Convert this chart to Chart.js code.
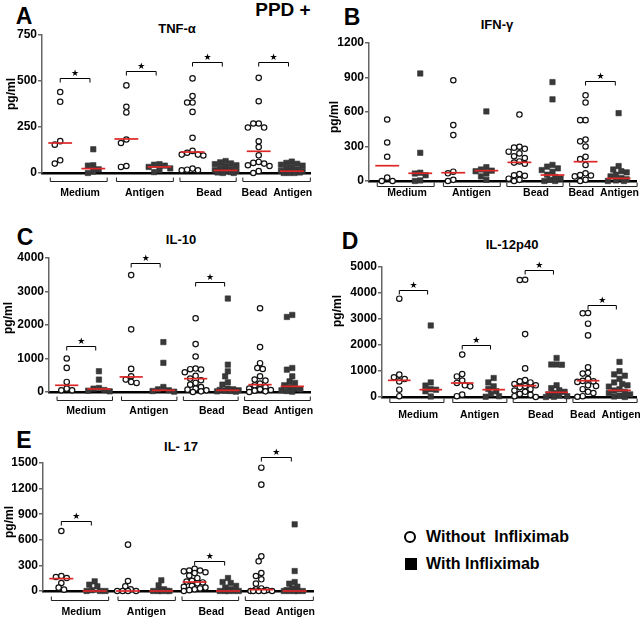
<!DOCTYPE html>
<html>
<head>
<meta charset="utf-8">
<script src="https://cdn.jsdelivr.net/npm/chart.js@4.4.1/dist/chart.umd.min.js"></script>
<style>
  body { margin: 0; background: #fff; }
  #fig { position: relative; width: 642px; height: 619px; overflow: hidden;
         font-family: "Liberation Sans", Arial, sans-serif; font-weight: bold; color: #000; }
  #fig canvas { position: absolute; }
  .t { position: absolute; transform: translate(-50%, -50%); white-space: nowrap; }
  .letter { font-size: 23px; }
  .ptitle { font-size: 13px; }
  .leg { position: absolute; font-size: 16px; transform: translateY(-50%); white-space: nowrap; }
  .circ { position: absolute; width: 8px; height: 8px; border: 2.2px solid #000; border-radius: 50%;
          transform: translate(-50%, -50%); background: #fff; }
  .sq { position: absolute; width: 12px; height: 12px; background: #000; transform: translate(-50%, -50%); }
</style>
</head>
<body>
<div id="fig">
  <div class="t letter" style="left:24px;top:16px">A</div>
  <div class="t letter" style="left:352px;top:17px">B</div>
  <div class="t letter" style="left:25px;top:237px">C</div>
  <div class="t letter" style="left:350px;top:241px">D</div>
  <div class="t letter" style="left:24px;top:440px">E</div>
  <div class="t" style="left:283px;top:10px;font-size:19px">PPD +</div>
  <div class="t ptitle" style="left:177px;top:28px">TNF-α</div>
  <div class="t ptitle" style="left:497px;top:24px">IFN-γ</div>
  <div class="t ptitle" style="left:181px;top:239px">IL-10</div>
  <div class="t ptitle" style="left:512px;top:244px">IL-12p40</div>
  <div class="t ptitle" style="left:181px;top:446px">IL- 17</div>
  <div class="circ" style="left:410px;top:537px"></div>
  <div class="leg" style="left:426px;top:537px">Without&nbsp; Infliximab</div>
  <div class="sq" style="left:411px;top:564px"></div>
  <div class="leg" style="left:426px;top:564px">With Infliximab</div>
</div>
<script>
// stimulation groups, each has an open (without) and filled (with infliximab) column
const groups = ['Medium', 'Antigen', 'Bead', 'Bead  Antigen'];
const groupLabelPos = [1.6, 3.55, 5.5, 7.55];
const groupSpans = [[0.7, 2.42], [2.7, 4.42], [4.62, 6.32], [6.52, 8.56]];

// A: TNF-alpha
const tnfOpen = [
  [440, 387, 173, 154, 69, 51],
  [476, 360, 329, 182, 163, 38, 33],
  [514, 418, 383, 383, 332, 191, 120, 110, 100, 100, 95, 24, 18, 15, 15],
  [517, 390, 269, 269, 247, 247, 172, 141, 96, 60, 55, 51, 42, 38, 10, 0]
];
const tnfFilled = [
  [129, 42, 40, 20, 8, 0],
  [48, 45, 40, 33, 25, 15, 5],
  [65, 58, 52, 48, 42, 35, 28, 22, 15, 12, 10, 8, 5, 3, 0, 0],
  [62, 55, 50, 45, 40, 32, 25, 18, 12, 10, 8, 5, 3, 0, 0, 0]
];
const tnfMedOpen = [163, 185, 114, 118];
const tnfMedFilled = [24, 33, 14, 10];
const tnfSig = [519, 556, 601, 601];

// B: IFN-gamma
const ifnOpen = [
  [535, 335, 211, 29, 0, 0],
  [876, 486, 399, 81, 67, 10, 0],
  [578, 298, 290, 280, 255, 240, 215, 200, 170, 160, 150, 60, 50, 45, 20, 10, 0],
  [745, 682, 529, 529, 360, 345, 300, 210, 190, 139, 67, 52, 48, 40, 10, 0]
];
const ifnFilled = [
  [935, 245, 72, 65, 50, 5, 0],
  [605, 120, 100, 90, 85, 65, 40, 10],
  [860, 710, 140, 125, 110, 95, 80, 55, 35, 20, 10, 0, 0],
  [590, 130, 100, 85, 75, 55, 40, 25, 15, 5, 0, 0]
];
const ifnMedOpen = [133, 72, 162, 168];
const ifnMedFilled = [67, 90, 52, 23];
const ifnSig = [null, null, null, 866];

// C: IL-10
const il10Open = [
  [1000, 720, 300, 100, 50, 50],
  [3490, 1870, 690, 470, 370, 300, 270],
  [2200, 1430, 1060, 700, 680, 670, 590, 480, 400, 350, 270, 220, 150, 100, 70, 50, 20, 0],
  [2500, 1340, 860, 716, 687, 470, 370, 340, 250, 200, 150, 100, 80, 60, 40, 20, 0]
];
const il10Filled = [
  [620, 370, 120, 100, 60, 40, 20],
  [1490, 870, 150, 80, 50, 30, 10],
  [2790, 816, 617, 468, 290, 220, 100, 80, 60, 50, 40, 30, 20, 10],
  [2300, 2240, 716, 667, 468, 318, 269, 200, 150, 100, 80, 50, 30, 10]
];
const il10MedOpen = [200, 450, 398, 219];
const il10MedFilled = [90, 50, 50, 169];
const il10Sig = [1370, 3850, 3290, null];

// D: IL-12p40
const il12Open = [
  [3780, 860, 760, 690, 600, 280, 30],
  [1630, 880, 790, 630, 540, 450, 410, 90, 30],
  [4510, 4500, 2420, 1100, 650, 600, 560, 500, 450, 420, 380, 300, 250, 200, 120, 80, 30, 0],
  [3230, 3220, 2820, 2370, 1140, 930, 900, 700, 620, 600, 580, 450, 420, 300, 200, 150, 30, 10]
];
const il12Filled = [
  [2750, 560, 440, 300, 280, 220, 20],
  [730, 560, 410, 310, 220, 120, 30, 10],
  [1500, 1250, 1250, 1240, 450, 340, 260, 200, 150, 100, 60, 30, 10, 0],
  [1350, 990, 870, 820, 700, 560, 500, 450, 400, 300, 250, 200, 150, 100, 50, 20, 0]
];
const il12MedOpen = [641, 538, 436, 628];
const il12MedFilled = [282, 282, 180, 256];
const il12Sig = [4128, 2013, 4897, 3551];

// E: IL-17
const il17Open = [
  [703, 176, 164, 152, 94, 39, 16],
  [543, 117, 55, 20, 0, 0, 0, 0],
  [260, 240, 240, 230, 220, 210, 180, 150, 120, 110, 100, 90, 60, 50, 40, 30, 20, 10, 0],
  [1445, 1246, 406, 348, 211, 176, 137, 86, 30, 20, 10, 0, 0, 0, 0, 0]
];
const il17Filled = [
  [113, 74, 55, 10, 0, 0, 0],
  [125, 66, 20, 0, 0, 0, 0, 0],
  [152, 105, 94, 60, 40, 20, 0, 0, 0, 0, 0],
  [781, 234, 105, 86, 50, 30, 10, 0, 0, 0, 0, 0]
];
const il17MedOpen = [145, 0, 105, 16];
const il17MedFilled = [0, 0, 0, 0];
const il17Sig = [820, null, 355, 1570];

const X_MIN = 0.45, X_MAX = 8.55;
const FONT = '"Liberation Sans", Arial, sans-serif';

// where each panel sits on the page (layout only)
const panels = [
  { open: tnfOpen, filled: tnfFilled, medOpen: tnfMedOpen, medFilled: tnfMedFilled, sig: tnfSig, yMax: 750, yStep: 250,
    box: { left: 0, top: 0, w: 320, h: 205 }, area: { left: 42, right: 310, top: 35, bottom: 173 },
    yTitle: [12, 94], bracketY: 181, labelY: 193 },
  { open: ifnOpen, filled: ifnFilled, medOpen: ifnMedOpen, medFilled: ifnMedFilled, sig: ifnSig, yMax: 1200, yStep: 300,
    box: { left: 322, top: 0, w: 320, h: 205 }, area: { left: 369, right: 638, top: 43, bottom: 181 },
    yTitle: [335, 117], bracketY: 186, labelY: 193 },
  { open: il10Open, filled: il10Filled, medOpen: il10MedOpen, medFilled: il10MedFilled, sig: il10Sig, yMax: 4000, yStep: 1000,
    box: { left: 0, top: 205, w: 320, h: 215 }, area: { left: 49, right: 310, top: 258, bottom: 392 },
    yTitle: [9, 318], bracketY: 400, labelY: 411 },
  { open: il12Open, filled: il12Filled, medOpen: il12MedOpen, medFilled: il12MedFilled, sig: il12Sig, yMax: 5000, yStep: 1000,
    box: { left: 322, top: 205, w: 320, h: 215 }, area: { left: 382, right: 640, top: 267, bottom: 397 },
    yTitle: [338, 311], bracketY: 402, labelY: 415 },
  { open: il17Open, filled: il17Filled, medOpen: il17MedOpen, medFilled: il17MedFilled, sig: il17Sig, yMax: 1500, yStep: 300,
    box: { left: 0, top: 420, w: 320, h: 199 }, area: { left: 43, right: 313, top: 463, bottom: 591 },
    yTitle: [10, 522], bracketY: 600, labelY: 612 }
];

// spread the dots of one column sideways so they don't sit on top of each other (like Prism does)
// dense rows are allowed to overlap a bit instead of getting wider
function swarm(values, center, pxX, pxY) {
  const placed = [];
  const pts = [];
  const minD = 5.4;
  const cands = [0];
  for (let k = 1; k <= 4; k++) cands.push(-k * 2.7, k * 2.7);
  values.slice().sort((a, b) => b - a).forEach(v => {
    const py = v * pxY;
    let best = 0, bestD = -1;
    for (const c of cands) {
      let d = Infinity;
      placed.forEach(q => { d = Math.min(d, Math.hypot(q.px - c, q.py - py)); });
      if (d >= minD) { best = c; break; }
      if (d > bestD) { bestD = d; best = c; }
    }
    placed.push({ px: best, py });
    pts.push({ x: center + best / pxX, y: v });
  });
  return pts;
}

function medianLine(center, value) {
  return {
    type: 'line', showLine: true, clip: false,
    data: [{ x: center - 0.36, y: value }, { x: center + 0.36, y: value }],
    borderColor: 'rgb(222,38,38)', borderWidth: 1.7, pointRadius: 0
  };
}

// brackets, group labels, significance stars and the y title
function annotate(p) {
  return {
    id: 'annotate',
    afterDraw(chart) {
      const { ctx, scales: { x, y } } = chart;
      const oy = p.box.top, ox = p.box.left;
      ctx.save();
      ctx.fillStyle = '#000';
      ctx.font = 'bold 12px ' + FONT;
      ctx.textAlign = 'center';
      ctx.textBaseline = 'middle';
      ctx.save();
      ctx.translate(p.yTitle[0] - ox, p.yTitle[1] - oy);
      ctx.rotate(-Math.PI / 2);
      ctx.fillText('pg/ml', 0, 0);
      ctx.restore();

      ctx.font = 'bold 10.5px ' + FONT;
      ctx.strokeStyle = '#222';
      ctx.lineWidth = 1;
      const yb = p.bracketY - oy + 0.5;
      groupSpans.forEach(([a, b], i) => {
        const x0 = x.getPixelForValue(a), x1 = x.getPixelForValue(b);
        ctx.beginPath();
        ctx.moveTo(x0, yb - 4); ctx.lineTo(x0, yb); ctx.lineTo(x1, yb); ctx.lineTo(x1, yb - 4);
        ctx.stroke();
        ctx.fillText(groups[i], x.getPixelForValue(groupLabelPos[i]), p.labelY - oy);
      });

      ctx.strokeStyle = '#000';
      p.sig.forEach((v, i) => {
        if (v == null) return;
        const x0 = x.getPixelForValue(2 * i + 1), x1 = x.getPixelForValue(2 * i + 1.9);
        const ys = Math.round(y.getPixelForValue(v)) + 0.5;
        ctx.beginPath();
        ctx.moveTo(x0, ys + 4); ctx.lineTo(x0, ys); ctx.lineTo(x1, ys); ctx.lineTo(x1, ys + 4);
        ctx.stroke();
        ctx.font = '9px "DejaVu Sans", sans-serif';
        ctx.fillText('★', (x0 + x1) / 2, ys - 5);
      });
      ctx.restore();
    }
  };
}

const fig = document.getElementById('fig');

panels.forEach(p => {
  const canvas = document.createElement('canvas');
  canvas.width = p.box.w;
  canvas.height = p.box.h;
  canvas.style.left = p.box.left + 'px';
  canvas.style.top = p.box.top + 'px';
  fig.appendChild(canvas);

  const pxX = (p.area.right - p.area.left) / (X_MAX - X_MIN);
  const pxY = (p.area.bottom - p.area.top) / p.yMax;
  const openPts = [], filledPts = [];
  p.open.forEach((vals, g) => openPts.push(...swarm(vals, 2 * g + 1, pxX, pxY)));
  p.filled.forEach((vals, g) => filledPts.push(...swarm(vals, 2 * g + 2, pxX, pxY)));
  const medians = [];
  p.medOpen.forEach((m, g) => medians.push(medianLine(2 * g + 1, m)));
  p.medFilled.forEach((m, g) => medians.push(medianLine(2 * g + 2, m)));

  new Chart(canvas, {
    type: 'scatter',
    data: {
      datasets: [
        ...medians,
        { label: 'Without Infliximab', data: openPts, pointStyle: 'circle', pointRadius: 2.7,
          borderWidth: 1.2, borderColor: '#111', backgroundColor: '#fff', clip: false },
        { label: 'With Infliximab', data: filledPts, pointStyle: 'rect', pointRadius: 3.8,
          borderWidth: 0.6, borderColor: '#333', backgroundColor: '#383838', clip: false }
      ]
    },
    options: {
      responsive: false,
      animation: false,
      events: [],
      layout: { padding: { left: 0, top: p.area.top - p.box.top, right: p.box.left + p.box.w - p.area.right, bottom: 0 } },
      plugins: { legend: { display: false }, tooltip: { enabled: false } },
      scales: {
        x: {
          type: 'linear', min: X_MIN, max: X_MAX,
          ticks: { display: false },
          grid: { display: false },
          border: { display: true, color: '#000', width: 2.5 },
          afterFit: s => { s.height = p.box.top + p.box.h - p.area.bottom; }
        },
        y: {
          min: 0, max: p.yMax,
          ticks: { stepSize: p.yStep, color: '#000', padding: 1, callback: v => String(v),
                   font: { family: FONT, size: 12, weight: 'bold' } },
          grid: { drawOnChartArea: false, drawTicks: true, tickLength: 4, color: '#666', lineWidth: 1.5 },
          border: { color: '#666', width: 1.5 },
          afterFit: s => { s.width = p.area.left - p.box.left; }
        }
      }
    },
    plugins: [annotate(p)]
  });
});
</script>
</body>
</html>
